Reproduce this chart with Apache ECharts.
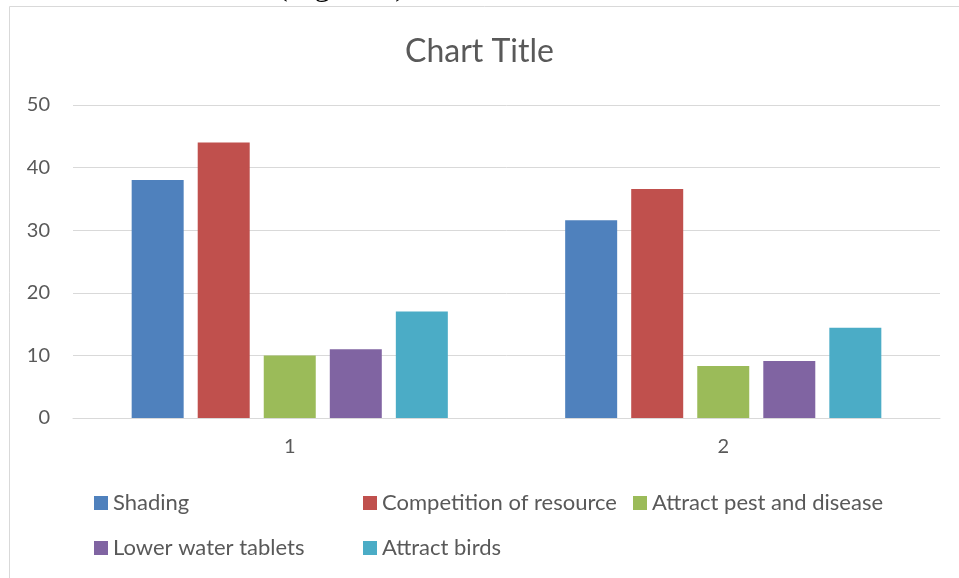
<!DOCTYPE html>
<html>
<head>
<meta charset="utf-8">
<script src="https://cdn.jsdelivr.net/npm/echarts@6/dist/echarts.min.js"></script>
<style>
html,body{margin:0;padding:0;background:#fff;}
#chart{width:959px;height:578px;}
</style>
</head>
<body>
<div id="chart"></div>
<script>
const categories = ['1', '2'];
const seriesNames = ['Shading', 'Competition of resource', 'Attract pest and disease', 'Lower water tablets', 'Attract birds'];
const shading = [38.0, 31.6];
const competition = [44.0, 36.6];
const pestDisease = [10.0, 8.3];
const lowerWater = [11.0, 9.1];
const attractBirds = [17.0, 14.4];
const yTicks = [0, 10, 20, 30, 40, 50];

const colors = ['#4F81BD', '#C0504D', '#9BBB59', '#8064A2', '#4BACC6'];
const values = [shading, competition, pestDisease, lowerWater, attractBirds];
const FONT = 'Lato';

const legendPos = [
  {left: 94, top: 492},
  {left: 363, top: 492},
  {left: 633, top: 492},
  {left: 94, top: 537},
  {left: 363, top: 537}
];

const chart = echarts.init(document.getElementById('chart'));
chart.setOption({
  animation: false,
  backgroundColor: '#fff',
  title: {
    text: 'Chart Title',
    left: 'center',
    top: 31,
    textStyle: {fontFamily: FONT, fontSize: 32, fontWeight: 'normal', color: '#595959'}
  },
  graphic: [
    {type: 'rect', shape: {x: 9.5, y: 6.5, width: 960, height: 580}, style: {fill: 'none', stroke: '#d9d9d9', lineWidth: 1}},
    {type: 'text', x: 277, y: -29, style: {text: '(Figure 1)', font: '32px "Liberation Serif"', fill: '#000'}}
  ],
  legend: seriesNames.map((n, i) => ({
    data: [n],
    left: legendPos[i].left,
    top: legendPos[i].top,
    padding: 0,
    icon: 'rect',
    itemWidth: 14,
    itemHeight: 14,
    textStyle: {fontFamily: FONT, fontSize: 22, color: '#595959'}
  })),
  grid: {left: 73, right: 19, top: 105, bottom: 160, containLabel: false},
  xAxis: {
    type: 'category',
    data: categories,
    axisLine: {lineStyle: {color: '#d9d9d9', width: 1}},
    axisTick: {show: false},
    axisLabel: {fontFamily: FONT, fontSize: 20, color: '#595959', margin: 19}
  },
  yAxis: {
    type: 'value',
    min: yTicks[0],
    max: yTicks[yTicks.length - 1],
    interval: 10,
    axisLine: {show: false},
    axisTick: {show: false},
    axisLabel: {fontFamily: FONT, fontSize: 20, color: '#595959', margin: 23},
    splitLine: {lineStyle: {color: '#d9d9d9', width: 1}}
  },
  series: seriesNames.map((n, i) => ({
    name: n,
    type: 'bar',
    data: values[i],
    barWidth: 52,
    barGap: '27%',
    itemStyle: {color: colors[i]}
  }))
});
</script>
</body>
</html>
